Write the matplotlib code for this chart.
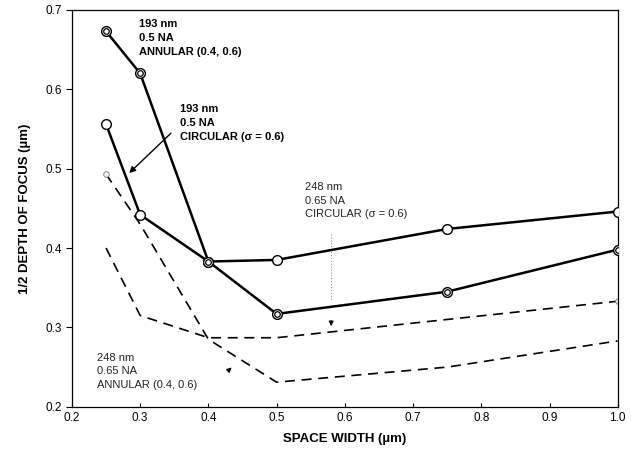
import matplotlib.pyplot as plt

plt.rcParams['font.family'] = ['Liberation Sans', 'DejaVu Sans']

# space widths (um)
space = [0.25, 0.3, 0.4, 0.5, 0.75, 1.0]

# half depth of focus (um)
dof_193_annular = [0.673, 0.620, 0.383, 0.317, 0.345, 0.398]
dof_193_circular = [0.556, 0.442, 0.383, 0.385, 0.424, 0.446]
dof_248_annular = [0.493, 0.430, 0.285, 0.231, 0.250, 0.283]
dof_248_circular = [0.400, 0.315, 0.287, 0.287, 0.310, 0.333]

x_ticks = [0.2, 0.3, 0.4, 0.5, 0.6, 0.7, 0.8, 0.9, 1.0]
y_ticks = [0.2, 0.3, 0.4, 0.5, 0.6, 0.7]

fig = plt.figure(figsize=(6.31, 4.49), dpi=100)
ax = fig.add_axes([0.114, 0.094, 0.865, 0.884])

# 193 nm curves (solid)
ax.plot(space, dof_193_circular, color='black', lw=1.8, marker='o', ms=7,
        mfc='white', mec='black', mew=1.0, zorder=3)
ax.plot(space, dof_193_annular, color='black', lw=1.8, marker='o', ms=7,
        mfc='white', mec='black', mew=1.0, zorder=3)
ax.plot(space, dof_193_annular, ls='none', marker='o', ms=4,
        mfc='none', mec='black', mew=0.9, zorder=4)

# 248 nm curves (dashed)
ax.plot(space, dof_248_circular, color='black', lw=1.2, ls=(0, (6, 4)))
ax.plot(space, dof_248_annular, color='black', lw=1.2, ls=(0, (6, 4)))
ax.plot([space[0], space[-1]], [dof_248_annular[0], dof_248_circular[-1]], ls='none',
        marker='o', ms=4, mfc='white', mec='gray', mew=0.7)

ax.set_xlim(0.2, 1.0)
ax.set_ylim(0.2, 0.7)
ax.set_xticks(x_ticks)
ax.set_xticklabels([f'{v:.1f}' for v in x_ticks])
ax.set_yticks(y_ticks)
ax.set_yticklabels([f'{v:.1f}' for v in y_ticks])
ax.tick_params(axis='x', direction='in', length=3, labelsize=8.5, pad=4)
ax.tick_params(axis='y', direction='out', length=4, labelsize=8.5)
for s in ax.spines.values():
    s.set_linewidth(0.9)

ax.set_xlabel('SPACE WIDTH (µm)', fontsize=9.5, fontweight='bold', labelpad=6)
ax.set_ylabel('1/2 DEPTH OF FOCUS (µm)', fontsize=9.5, fontweight='bold', labelpad=10)

# labels
ax.text(0.299, 0.688, '193 nm\n0.5 NA\nANNULAR (0.4, 0.6)', fontsize=8,
        fontweight='bold', va='top', linespacing=1.45)
ax.text(0.358, 0.581, '193 nm\n0.5 NA\nCIRCULAR (σ = 0.6)', fontsize=8,
        fontweight='bold', va='top', linespacing=1.45)
ax.annotate('', xy=(0.281, 0.492), xytext=(0.348, 0.547),
            arrowprops=dict(arrowstyle='-|>', color='black', lw=1.0, mutation_scale=9))

ax.text(0.542, 0.483, '248 nm\n0.65 NA\nCIRCULAR (σ = 0.6)', fontsize=8,
        va='top', linespacing=1.45, color='#222222')
ax.plot([0.58, 0.58], [0.418, 0.335], color='gray', lw=0.7, ls=(0, (1, 2)))
ax.annotate('', xy=(0.58, 0.298), xytext=(0.58, 0.312),
            arrowprops=dict(arrowstyle='-|>', color='black', lw=0.8, mutation_scale=7))

ax.text(0.237, 0.268, '248 nm\n0.65 NA\nANNULAR (0.4, 0.6)', fontsize=8,
        va='top', linespacing=1.45, color='#222222')
ax.annotate('', xy=(0.437, 0.252), xytext=(0.426, 0.243),
            arrowprops=dict(arrowstyle='-|>', color='black', lw=0.8, mutation_scale=7))

fig.savefig('out.png', dpi=100)
